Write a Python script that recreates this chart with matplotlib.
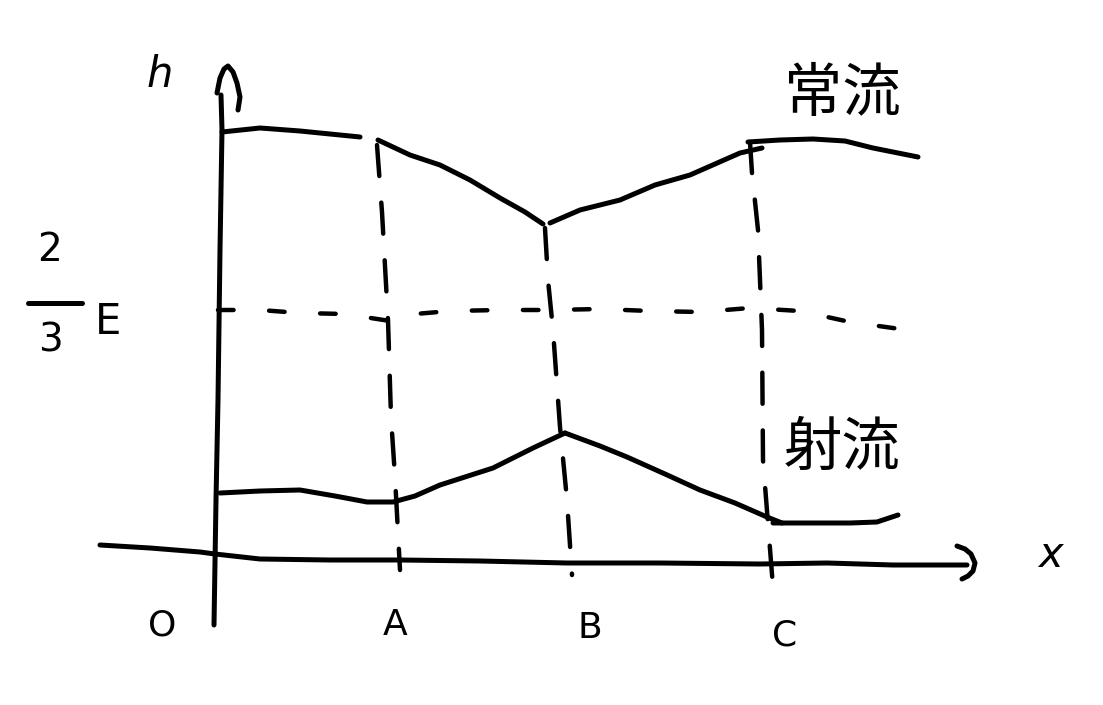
import matplotlib.pyplot as plt

plt.rcParams['font.family'] = ['Noto Sans CJK JP', 'DejaVu Sans']

# everything in pixel units, y grows downward

# subcritical (常流) water surface, drawn in 4 strokes
upper_strokes = [
    ([222, 260, 300, 330, 360], [132, 128, 131, 134, 137]),
    ([378, 410, 440, 470, 500, 525, 543], [140, 155, 165, 180, 198, 212, 224]),
    ([550, 580, 620, 655, 690, 740, 762], [223, 210, 200, 185, 175, 153, 148]),
    ([748, 780, 813, 845, 873, 918], [142, 140, 139, 141, 148, 157]),
]

# supercritical (射流) water surface
lower_strokes = [
    ([220, 260, 300, 335, 367, 393, 415, 440, 493, 533, 565],
     [493, 491, 490, 496, 502, 502, 496, 485, 468, 448, 433]),
    ([565, 600, 627, 665, 700, 735, 767, 782],
     [433, 446, 457, 474, 490, 503, 517, 523]),
    ([773, 810, 850, 877, 898], [523, 523, 523, 522, 515]),
]

# axes strokes
xaxis_x = [100, 150, 200, 215, 260, 330, 400, 480, 567, 660, 760, 827, 893, 967]
xaxis_y = [545, 548, 552, 554, 559, 560, 560, 561, 563, 563, 564, 563, 565, 565]
xarrow_x = [957, 965, 971, 975, 973, 968, 962]
xarrow_y = [546, 549, 554, 563, 571, 576, 579]
yaxis_x = [214, 216, 218, 220, 222, 221]
yaxis_y = [625, 500, 400, 250, 130, 95]
yarrow_x = [217, 220, 224, 228, 233, 237, 240, 238]
yarrow_y = [93, 78, 69, 66, 72, 83, 97, 110]

# dashed guide lines at A, B, C and the critical depth 2/3 E
guide_a = ([377, 382, 388, 391, 395, 400], [145, 212, 320, 417, 477, 570])
guide_b = ([545, 548, 553, 560, 567, 572], [228, 280, 330, 427, 500, 575])
guide_c = ([750, 752, 758, 762, 763, 773], [142, 173, 230, 330, 460, 587])
guide_e = ([218, 260, 300, 345, 390, 415, 450, 500, 550, 600, 650, 700, 750, 800, 850, 900],
           [310, 310, 313, 314, 321, 314, 311, 310, 310, 309, 311, 312, 308, 311, 322, 329])

point_labels = ['O', 'A', 'B', 'C']
point_x = [162, 395, 590, 785]
point_y = [625, 625, 628, 635]

fig = plt.figure(figsize=(11.03, 7.05), dpi=100)
ax = fig.add_axes([0, 0, 1, 1])
ax.set_xlim(0, 1103)
ax.set_ylim(705, 0)
ax.axis('off')

solid = dict(color='black', lw=3.6, solid_capstyle='round', solid_joinstyle='round')
dashed = dict(color='black', lw=3.2, dashes=(7, 6), dash_capstyle='round')

for xs, ys in upper_strokes + lower_strokes:
    ax.plot(xs, ys, **solid)

ax.plot(xaxis_x, xaxis_y, **solid)
ax.plot(xarrow_x, xarrow_y, **solid)
ax.plot(yaxis_x, yaxis_y, **solid)
ax.plot(yarrow_x, yarrow_y, **solid)

for xs, ys in [guide_a, guide_b, guide_c]:
    ax.plot(xs, ys, **dashed)
ax.plot(guide_e[0], guide_e[1], color='black', lw=3.2, dashes=(3.5, 8), dash_capstyle='round')

for lab, px, py in zip(point_labels, point_x, point_y):
    ax.text(px, py, lab, fontsize=26, ha='center', va='center', family='DejaVu Sans')

ax.text(160, 75, 'h', fontsize=30, ha='center', va='center', style='italic', family='DejaVu Sans')
ax.text(1050, 555, 'x', fontsize=30, ha='center', va='center', style='italic', family='DejaVu Sans')

# 2/3 E written as a fraction
ax.text(50, 250, '2', fontsize=28, ha='center', va='center', family='DejaVu Sans')
ax.plot([28, 82], [303, 303], **solid)
ax.text(50, 340, '3', fontsize=28, ha='center', va='center', family='DejaVu Sans')
ax.text(108, 322, 'E', fontsize=30, ha='center', va='center', family='DejaVu Sans')

ax.text(842, 95, '常流', fontsize=42, ha='center', va='center')
ax.text(842, 448, '射流', fontsize=42, ha='center', va='center')

fig.savefig('out.png', dpi=100)
